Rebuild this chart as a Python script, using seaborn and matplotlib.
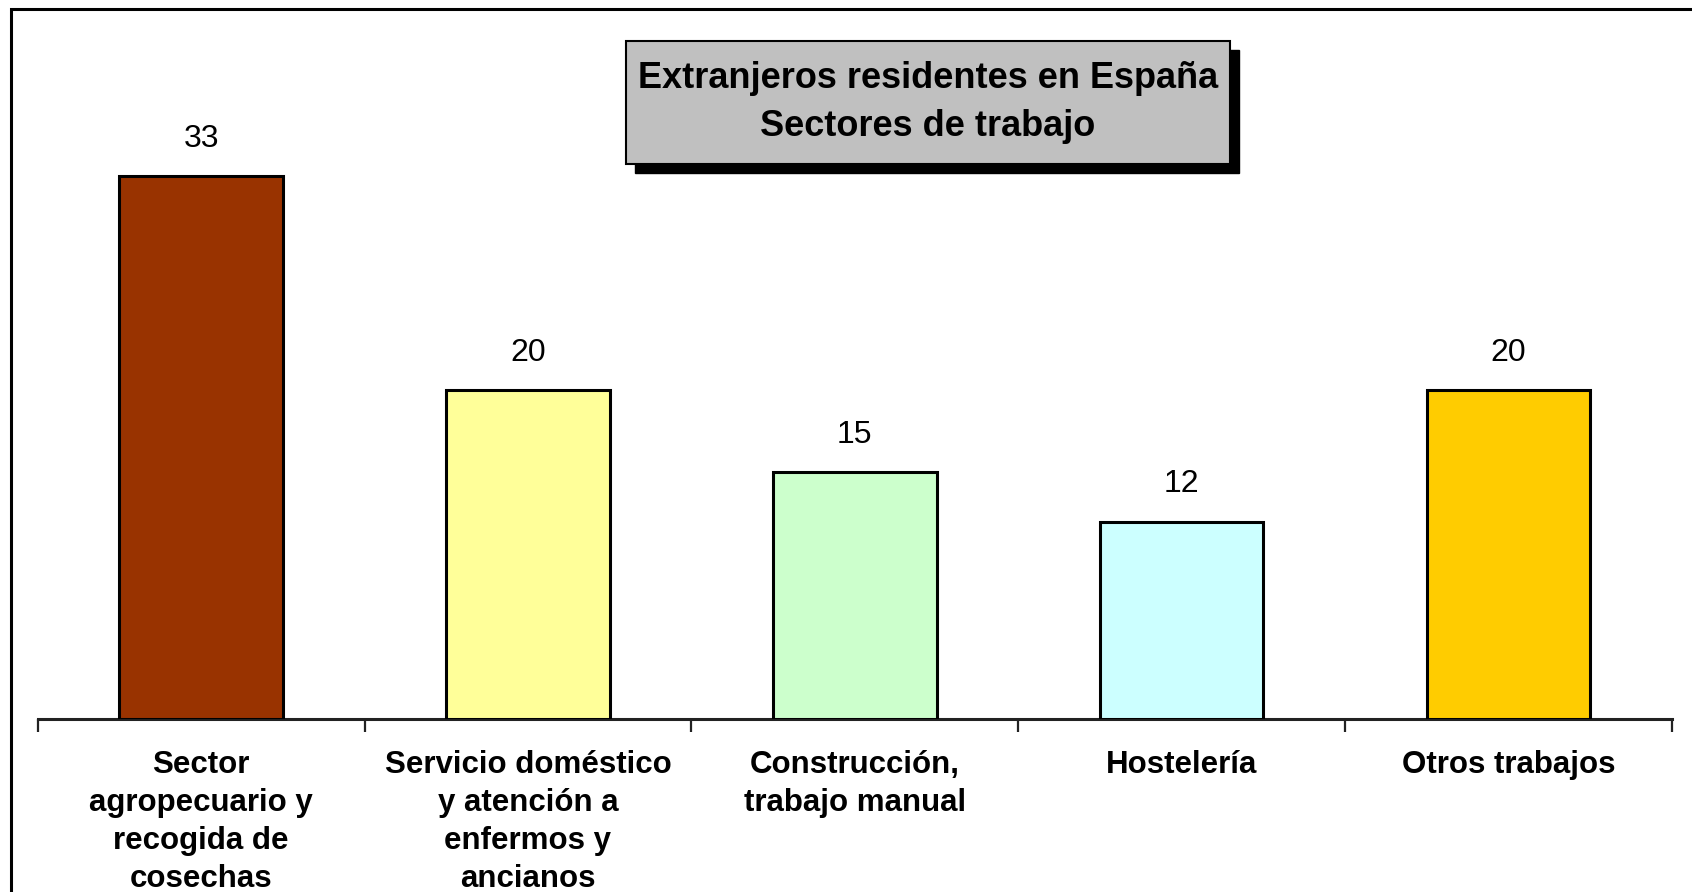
import matplotlib
matplotlib.use("Agg")
import matplotlib.pyplot as plt
from matplotlib.patches import Rectangle
import seaborn as sns
import pandas as pd

# Chart data
categories = [
    "Sector\nagropecuario y\nrecogida de\ncosechas",
    "Servicio doméstico\ny atención a\nenfermos y\nancianos",
    "Construcción,\ntrabajo manual",
    "Hostelería",
    "Otros trabajos",
]
values = [33, 20, 15, 12, 20]
bar_colors = ["#993300", "#FFFF99", "#CCFFCC", "#CCFFFF", "#FFCC00"]
title_lines = ["Extranjeros residentes en España", "Sectores de trabajo"]

data = pd.DataFrame({"Sector": categories, "Porcentaje": values})

sns.set_style("white")
plt.rcParams["font.family"] = ["Liberation Sans", "DejaVu Sans"]

fig = plt.figure(figsize=(16.92, 8.92), dpi=100)
ax = fig.add_axes([0.0223, 0.194, 0.9658, 0.7377])

sns.barplot(
    data=data,
    x="Sector",
    y="Porcentaje",
    hue="Sector",
    palette=bar_colors,
    saturation=1,
    width=0.5,
    edgecolor="black",
    linewidth=2.2,
    legend=False,
    ax=ax,
)

# Value labels above the bars
for cont in ax.containers:
    ax.bar_label(cont, fontsize=23, padding=16, color="black")

ax.set_xlim(-0.5, len(categories) - 0.5)
ax.set_ylim(0, 40)
ax.set_xlabel("")
ax.set_ylabel("")
ax.set_yticks([])

# Only the bottom axis line, with ticks between categories
for side in ["top", "left", "right"]:
    ax.spines[side].set_visible(False)
ax.spines["bottom"].set_color("#222222")
ax.spines["bottom"].set_linewidth(2.2)
ax.spines["bottom"].set_zorder(0)

ax.set_xticks(range(len(categories)))
ax.set_xticklabels(categories, fontsize=22.5, fontweight="bold", linespacing=1.36,
                   va="top", color="black")
ax.set_xticks([i - 0.5 for i in range(len(categories) + 1)], minor=True)
ax.tick_params(axis="x", which="major", length=0, pad=22)
ax.tick_params(axis="x", which="minor", length=9.5, width=1.6, color="#222222",
               direction="out", bottom=True)

# Title box with a drop shadow
fig.patches.append(Rectangle((0.3753, 0.806), 0.357, 0.1379, transform=fig.transFigure,
                             facecolor="black", edgecolor="black", zorder=1))
fig.patches.append(Rectangle((0.370, 0.8161), 0.357, 0.1379, transform=fig.transFigure,
                             facecolor="#C0C0C0", edgecolor="black", linewidth=1.5,
                             zorder=2))
fig.text(0.5485, 1 - 78 / 892, title_lines[0], fontsize=26, fontweight="bold",
         ha="center", va="center", color="black", zorder=3)
fig.text(0.5485, 1 - 126 / 892, title_lines[1], fontsize=26, fontweight="bold",
         ha="center", va="center", color="black", zorder=3)

# Outer chart border (only left and top are inside the picture)
fig.patches.append(Rectangle((11 / 1692, -0.1), 1.2, 1.1 - 9 / 892,
                             transform=fig.transFigure, fill=False,
                             edgecolor="black", linewidth=2.2))

fig.savefig("out.png", dpi=100)
